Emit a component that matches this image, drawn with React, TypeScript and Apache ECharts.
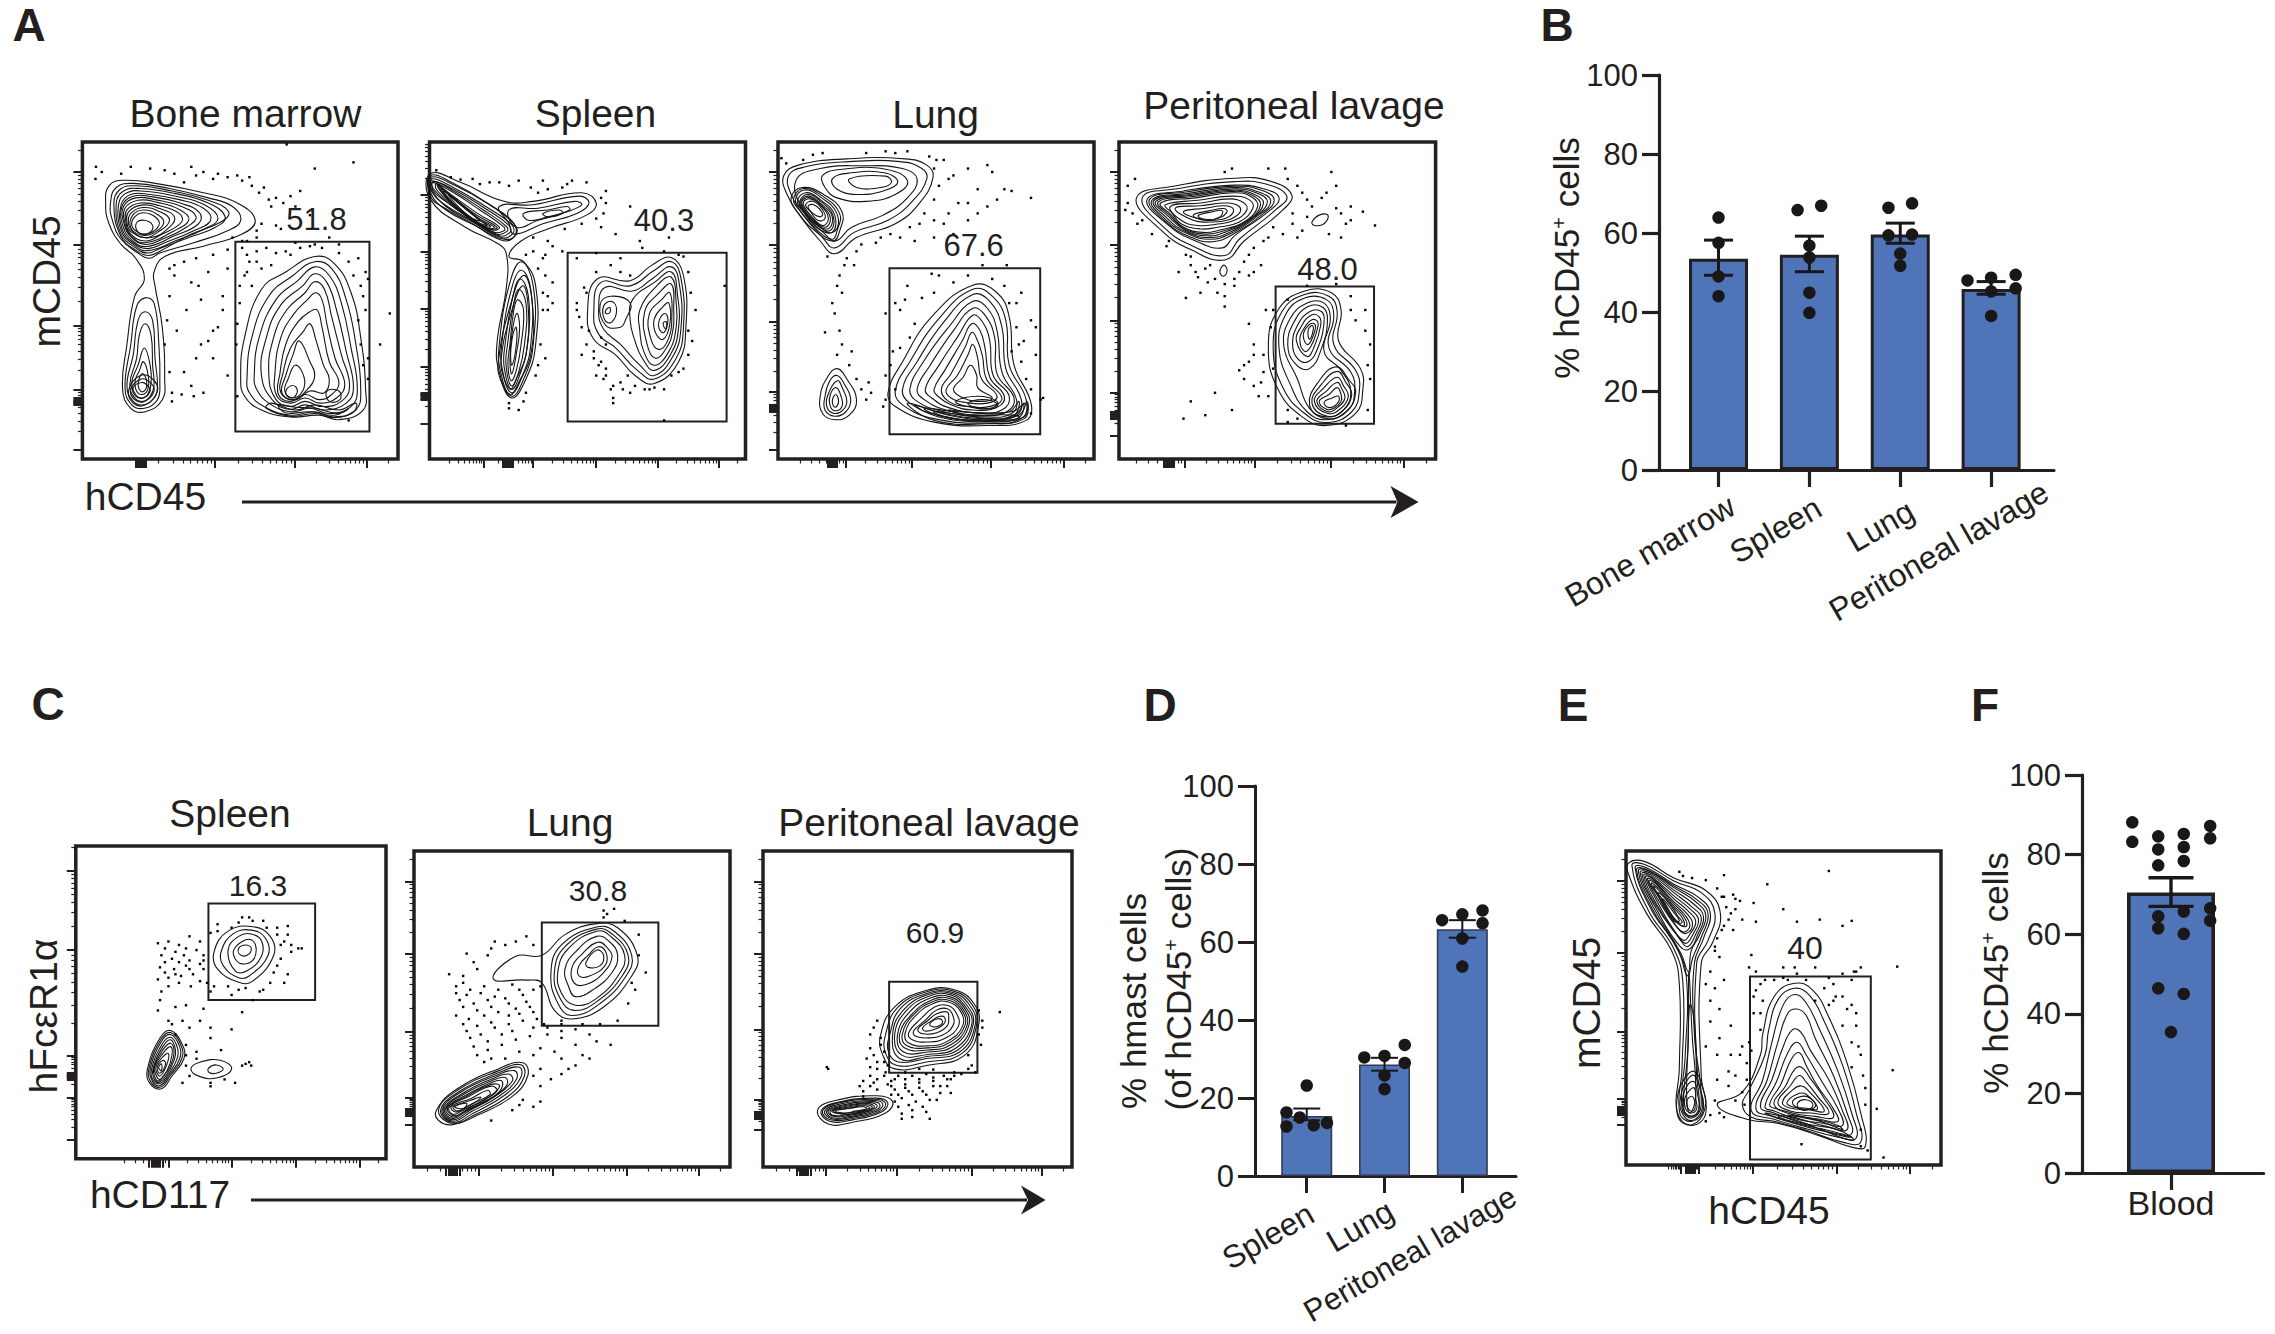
import React, { useEffect, useRef } from "react";
import * as echarts from "echarts";

const INK = "#231f20";
const BLUE = "#4f74b8";
const FONT = "'Liberation Sans', Arial, sans-serif";

/* ---------- bar panels: values ---------- */
const catB = ["Bone marrow", "Spleen", "Lung", "Peritoneal lavage"];
const meanB = [53.5, 54.5, 59.6, 45.8];
const errLowB = [49.3, 50.2, 57.4, 44.5];
const errHighB = [58.2, 59.2, 62.5, 47.7];
const dotsB = [
  [1, 63.9], [1, 57.5], [1, 49], [1, 44],
  [1.87, 65.8], [2.13, 66.9], [2, 56.8], [2, 53.8], [2, 44.9], [2, 39.8],
  [2.87, 66.4], [3.13, 67.5], [2.87, 59.4], [3.13, 59.6], [3, 54.8], [3, 51.7],
  [3.74, 48], [4, 48.7], [4.27, 49.4], [4.27, 46], [4, 45.2], [4, 39],
];
const catD = ["Spleen", "Lung", "Peritoneal lavage"];
const meanD = [15.4, 28.6, 63.3];
const errLowD = [14.3, 27, 61.1];
const errHighD = [17.3, 30.3, 65.6];
const dotsD = [
  [1, 23.2], [0.74, 16.3], [0.91, 15], [0.74, 12.7], [1.09, 13], [1.26, 13.6],
  [1.74, 30.4], [2, 30.8], [2.26, 33.6], [2.26, 29], [2, 25.8], [2, 22.3],
  [2.74, 65.6], [3, 67.1], [3.26, 68.1], [3.26, 64.8], [3, 60.9], [3, 53.7],
];
const meanF = [70.5];
const errLowF = [67];
const errHighF = [74.2];
const dotsF = [
  [0.56, 88.1], [0.56, 83.2], [0.855, 84.6], [0.855, 81.3], [0.855, 77.3],
  [1.145, 85.2], [1.145, 81.9], [1.145, 78.4], [1.445, 87.2], [1.445, 84.1],
  [1.445, 66.5], [1.445, 63.4], [1.145, 65.7], [1.145, 60.1], [0.855, 64.5],
  [0.855, 61.5], [0.855, 46.4], [1.145, 45], [1, 35.4],
];

/* ---------- flow panels: contour rings, events, gates ---------- */
const ringsA1 = [
  [218,590,225,540,255,524,330,535,420,560,490,590,527,640,500,680,420,715,340,745,318,790,320,830,335,950,340,1100,335,1160,300,1195,270,1185,253,1130,262,1000,278,860,298,810,280,750,250,710,225,650],
  [228,590,240,545,275,533,350,548,430,575,480,600,497,640,470,670,400,705,330,735,308,750,285,735,250,695,232,640],
  [240,590,255,555,290,548,360,562,430,590,465,630,445,660,390,690,330,722,305,735,280,720,250,680],
  [250,595,270,565,310,565,370,580,420,605,435,640,400,670,340,705,305,722,275,705,252,665],
  [255,600,280,575,320,580,375,600,405,630,385,660,335,695,300,710,272,690,256,650],
  [262,610,290,590,330,598,370,620,375,645,335,680,300,700,270,680,260,645],
  [270,620,295,603,330,615,350,640,325,675,298,690,272,670,265,645],
  [278,630,297,618,322,632,328,655,305,680,285,675,272,655],
  [283,645,298,640,314,652,312,672,295,680,282,668],
  [300,865,318,880,328,1000,330,1110,325,1160,298,1185,272,1175,258,1125,270,1000,282,890],
  [300,905,315,930,320,1040,325,1120,318,1155,297,1175,275,1165,262,1120,275,1030,285,930],
  [300,940,312,975,315,1060,318,1120,310,1150,295,1165,278,1155,268,1115,282,1040,288,970],
  [298,1010,310,1060,312,1110,305,1145,293,1155,280,1145,272,1110,285,1060],
  [296,1050,306,1090,305,1130,294,1145,282,1135,279,1105,288,1075],
  [295,1085,303,1115,295,1137,286,1125,287,1100],
  [497,1100,505,980,540,840,590,790,650,745,690,765,725,850,745,980,755,1130,750,1190,700,1218,660,1205,600,1210,540,1190,505,1150],
  [510,1100,520,980,555,860,605,800,650,760,685,780,715,870,735,1000,745,1130,735,1190,690,1210,650,1195,600,1205,545,1180,515,1140],
  [525,1090,535,980,570,870,615,815,650,775,680,800,705,880,725,1010,738,1130,725,1180,680,1200,640,1185,600,1195,555,1170,530,1130],
  [540,1090,550,980,580,885,625,830,650,795,675,820,695,900,715,1020,730,1125,715,1170,670,1190,630,1175,600,1188,565,1165],
  [555,1085,565,980,592,900,630,850,650,818,670,840,685,920,705,1030,722,1120,705,1165,665,1180,630,1165,600,1180,570,1160],
  [568,1080,580,980,605,915,635,870,652,850,665,870,675,940,692,1040,712,1115,695,1155,660,1170,630,1155,600,1170,572,1150],
  [578,1085,590,1000,615,935,640,905,655,900,665,950,680,1050,700,1110,685,1145,660,1160,630,1145,600,1165,575,1145],
  [585,1080,600,1010,625,965,640,940,652,985,668,1060,680,1100,670,1140,640,1135,610,1160,580,1140],
  [590,1090,605,1030,618,990,640,1050,650,1090,635,1130,605,1160,582,1140],
  [595,1100,610,1060,628,1095,625,1135,605,1155,588,1135],
  [600,1120,612,1125,612,1145,600,1155,590,1140],
  [675,1135,700,1135,702,1160,680,1165],
];
const ringsA1b = [
  [235,592,248,550,282,540,355,555,430,582,472,615,456,645,395,680,332,728,306,742,282,728,250,688],
  [245,592,262,560,300,556,365,571,425,597,450,635,422,665,365,698,305,728,277,712,251,672],
  [252,598,275,570,315,572,372,590,412,618,410,650,360,685,302,716,273,698,254,658],
  [258,605,285,582,325,588,372,610,390,638,360,670,300,705,271,686,258,648],
  [266,615,292,596,330,606,360,630,350,660,312,690,272,675,262,645],
  [274,625,296,610,326,624,338,648,315,678,290,682,270,662],
  [560,1170,610,1190,650,1175,700,1190,735,1170,730,1195,690,1212,650,1200,600,1208,550,1185],
  [575,1175,610,1182,650,1185,700,1200,720,1185,690,1205,640,1195,590,1198],
  [266,1130,290,1090,315,1100,325,1135,300,1175,275,1170],
  [270,1130,292,1100,310,1110,318,1135,298,1165,278,1160],
  [275,1125,293,1110,305,1120,310,1135,296,1155,280,1150],
];
const dotsA1 = [198,485,270,485,395,485,650,490,730,472,592,420,197,520,420,500,360,505,440,520,380,530,470,515,500,525,520,540,545,545,570,575,600,570,620,555,560,600,540,650,580,665,530,670,570,655,480,690,440,740,380,760,360,770,430,790,410,830,385,900,350,860,460,900,450,950,440,960,340,1000,380,1080,420,1140,400,1150,355,1140,460,860,510,740,530,760,550,720,590,730,620,720,680,690,640,715,700,735,730,800,745,830,755,900,740,930,785,1000,805,910,510,790,540,780,520,830,495,830,500,720,560,770,600,740,650,710,720,760,750,860,355,1165,395,1120,415,1000,470,780,430,990,360,800,
  210,500,250,505,310,490,340,495,405,510,450,505,490,510,515,515,535,560,555,580,585,590,610,600,640,625,530,690,510,700,470,725,405,750,350,780,395,820,415,870,345,930,365,960,405,1040,440,1040,470,1090,350,1080,375,1145,500,700,530,730,570,735,610,705,665,720,700,710,740,750,755,790,760,810,515,760,505,800,495,880,490,940,488,1000,490,1150,745,1000,760,1040,750,1060,720,1220,760,1100];
const gateA1 = [486, 702, 763, 1252];

const ringsA2 = [
  [888,505,950,530,1040,585,1100,585,1200,560,1230,590,1210,625,1130,665,1075,700,1050,745,1080,760,1105,830,1105,1000,1085,1100,1055,1155,1030,1080,1025,1000,1045,830,1045,740,1030,710,960,660,888,580],
  [1030,600,1100,595,1195,570,1215,590,1190,620,1120,650,1060,680,1050,650],
  [1050,610,1110,605,1185,585,1200,595,1170,615,1110,640,1065,660],
  [1080,620,1130,610,1170,600,1175,610,1130,630,1090,640],
  [1120,620,1155,610,1160,620,1130,630],
  [888,515,940,540,1010,595,1060,650,1065,680,1040,695,980,655,920,610,888,560],
  [888,525,935,550,1000,605,1050,655,1052,675,1030,685,975,645,920,600,890,550],
  [892,530,930,555,990,610,1040,660,1040,670,1020,675,970,635,925,590,895,550],
  [900,535,930,565,985,620,1030,660,1015,668,965,630,925,585,900,550],
  [905,540,930,572,980,628,1020,660,1005,662,960,625,925,580],
  [915,555,945,585,985,635,1005,655,985,645,950,610,925,575],
  [925,565,960,605,990,640,975,635,945,600],
  [1075,760,1100,830,1100,1000,1082,1095,1055,1150,1032,1075,1030,1000,1050,830],
  [1075,785,1095,840,1095,1000,1078,1090,1055,1140,1036,1070,1035,1000,1055,840],
  [1073,810,1090,860,1088,1000,1073,1085,1055,1130,1040,1065,1042,1000,1058,860],
  [1070,840,1085,880,1082,1000,1070,1080,1055,1120,1044,1060,1047,1000,1060,880],
  [1068,870,1080,900,1075,1000,1066,1070,1055,1105,1048,1060,1052,1000,1060,900],
  [1066,910,1072,950,1066,1020,1056,1085,1052,1050,1056,970],
  [1064,950,1066,990,1056,1060,1054,1010],
  [1212,910,1232,810,1300,815,1345,770,1385,748,1410,800,1415,950,1400,1050,1350,1113,1310,1090,1270,1030,1225,985],
  [1225,905,1240,820,1300,830,1350,785,1385,760,1405,810,1410,950,1395,1040,1350,1100,1315,1075,1270,1010,1235,970],
  [1235,900,1248,835,1305,845,1345,810,1385,775,1402,830,1405,950,1390,1030,1350,1090,1320,1060,1280,1000,1245,955],
  [1305,870,1350,820,1385,790,1398,860,1400,950,1385,1025,1350,1075,1325,1040,1310,990,1300,930],
  [1238,885,1260,860,1300,880,1290,930,1280,950,1250,945],
  [1245,890,1262,875,1272,900,1262,935,1248,930],
  [1250,900,1258,893,1258,908,1250,910],
  [1320,900,1355,830,1385,805,1395,880,1395,950,1380,1020,1350,1060,1328,1020,1320,960],
  [1330,905,1360,850,1385,825,1390,900,1388,960,1375,1010,1352,1040,1335,1000],
  [1340,910,1365,870,1382,850,1386,920,1380,980,1360,1015,1342,980],
  [1350,925,1368,890,1380,880,1382,940,1368,985,1352,965],
  [1360,930,1372,910,1378,930,1370,965,1360,955],
  [1368,938,1375,935,1373,955],
];
const ringsA2b = [
  [1028,1050,1050,900,1080,800,1098,880,1095,1030,1070,1110,1053,1145,1032,1100],
  [1034,1040,1052,920,1078,830,1090,900,1085,1030,1065,1100,1053,1130,1038,1090],
  [888,510,938,535,1005,590,1058,645,1062,685,1035,698,975,650,918,605,888,570],
  [890,520,935,545,1002,600,1055,652,1058,678,1034,690,972,640,918,595,890,555],
  [895,528,932,552,995,608,1045,658,1046,672,1024,680,968,632,922,588,893,552],
  [902,538,930,568,982,624,1025,660,1010,665,962,628,925,582],
  [910,548,938,578,982,632,1012,658,995,655,955,618,925,578],
];
const dotsA2 = [950,522,1010,530,1050,540,1095,545,1130,550,1180,525,1240,575,1250,590,1300,600,1160,545,990,535,1110,560,1240,660,1270,680,1320,700,1380,690,1085,740,1120,750,1110,780,1125,800,1130,860,1140,880,1120,900,1110,1060,1130,900,1070,1190,1050,1170,1080,1165,1190,880,1195,920,1205,835,1230,790,1260,770,1280,790,1300,800,1215,960,1225,1020,1240,1050,1250,1090,1265,1120,1285,1130,1300,1140,1265,1170,1370,1220,1425,850,1435,900,1420,960,1410,1070,1400,1080,1370,1130,1340,1130,1310,1120,1495,830,1400,740,1250,1000,1240,980,
  900,495,930,515,975,520,1030,530,1070,525,1120,525,1170,535,1210,530,1250,555,1245,620,1230,635,1200,650,1165,665,1130,700,1100,690,1100,730,1125,740,1140,715,1160,730,1190,750,1230,735,1280,750,1325,720,1370,730,1410,745,1420,790,1140,820,1120,850,1115,1000,1125,1040,1105,1090,1085,1140,1050,1185,1210,850,1190,900,1200,950,1210,1000,1225,1040,1235,1060,1250,1070,1280,1110,1295,1090,1330,1130,1350,1125,1385,1090,1420,1030,1428,990,1200,1030,1260,1130,1245,1100,1265,1155,1230,1090];
const gateA2 = [1171, 734, 1499, 1223];

const ringsA3 = [
  [90,510,120,480,220,462,340,462,385,480,398,515,370,590,320,650,240,690,195,737,165,700,125,630,95,560],
  [100,510,135,485,225,470,330,470,375,490,385,520,355,585,305,640,235,675,195,720,170,690,130,625,105,565],
  [115,525,165,490,250,482,335,490,365,520,345,575,295,625,230,660,197,700,175,680,130,610],
  [170,510,210,492,300,492,345,525,320,565,260,585,200,575,175,545],
  [190,520,225,503,300,503,325,530,295,555,240,565,200,550],
  [225,520,300,512,312,530,290,545,240,545],
  [110,580,130,548,170,570,205,620,200,670,190,695,160,670,125,615],
  [118,585,135,560,165,580,195,625,190,675,165,660,130,610],
  [125,590,140,570,165,590,190,630,180,665,150,640],
  [130,590,145,578,168,600,182,635,170,655,145,625],
  [135,595,150,585,170,610,175,635,160,640,145,615],
  [140,600,152,595,170,620,165,630,150,620],
  [200,1070,220,1100,240,1160,225,1205,195,1218,170,1200,165,1150,180,1095],
  [200,1090,215,1115,228,1160,218,1195,195,1208,175,1190,175,1150,185,1105],
  [200,1105,212,1130,220,1165,212,1190,195,1200,180,1185,180,1150],
  [198,1125,208,1150,210,1180,195,1192,185,1175,186,1145],
  [197,1145,203,1165,196,1182,190,1165],
  [305,1140,335,1050,395,920,480,828,530,850,555,920,565,1060,600,1170,590,1220,510,1235,400,1225,320,1180],
  [320,1135,350,1050,410,925,480,840,520,860,548,930,555,1060,590,1160,580,1215,510,1228,400,1215,335,1175],
  [335,1130,365,1050,420,935,480,855,515,875,540,950,548,1070,580,1160,570,1205,510,1220,410,1205,350,1170],
  [350,1130,378,1050,430,950,480,875,510,895,530,960,540,1080,570,1160,560,1200,510,1210,420,1195,365,1165],
  [365,1130,392,1060,440,960,480,895,505,915,525,980,530,1085,565,1155,550,1195,500,1205,425,1190,380,1160],
  [382,1130,408,1065,450,975,480,915,500,935,515,990,522,1090,555,1150,540,1190,490,1198,430,1183,395,1155],
  [400,1130,422,1075,458,990,478,940,495,960,505,1010,515,1095,545,1150,530,1182,480,1190,435,1175,408,1150],
  [415,1130,435,1085,465,1005,478,965,490,990,500,1035,508,1100,540,1155,520,1178,470,1180,430,1165],
  [425,1130,448,1090,470,1030,480,1000,490,1040,498,1100,530,1150,510,1170,465,1168,435,1155],
  [440,1130,460,1095,475,1060,488,1090,490,1125,520,1155,500,1165,460,1155],
  [445,1165,490,1150,530,1165,525,1185,470,1180],
  [470,1170,500,1160,530,1172,515,1185,480,1180],
  [380,1185,450,1195,560,1195,590,1170,585,1210,520,1222,420,1210],
  [400,1195,470,1205,570,1205,575,1215,500,1222,430,1212],
];
const ringsA3b = [
  [105,575,128,545,172,565,210,615,205,672,192,700,158,675,120,620],
  [114,582,132,552,168,575,200,622,195,672,162,665,128,612],
  [122,588,138,565,166,585,192,628,185,670,155,650,128,608],
  [127,590,142,574,166,595,186,632,175,660,148,632],
  [345,1170,420,1200,510,1215,575,1205,592,1165,586,1215,510,1230,400,1220],
  [360,1175,430,1205,520,1218,570,1200,585,1170,575,1212,510,1224,410,1210],
  [430,1190,500,1200,555,1195,575,1165,565,1205,510,1215],
];
const dotsA3 = [85,460,150,450,300,440,345,440,405,465,420,465,430,520,510,480,545,550,600,575,560,555,490,550,450,590,400,580,380,620,420,650,470,640,350,660,330,690,290,690,250,710,220,750,180,745,235,770,205,800,210,850,195,910,175,965,210,1000,230,1020,225,1060,250,1130,270,1140,295,1180,300,1090,315,1020,340,870,375,865,440,820,410,800,500,770,550,770,580,850,600,930,610,950,555,880,330,900,360,940,320,1130,620,1160,575,1000,590,1100,600,1130,300,910,395,795,
  95,475,130,465,170,445,260,445,320,445,390,455,400,490,410,540,440,510,470,490,520,500,530,580,510,600,470,590,490,620,430,620,400,640,370,650,440,680,400,690,360,700,310,680,280,705,240,730,215,770,200,830,190,880,205,960,200,1030,240,1100,265,1110,260,1160,300,1160,320,880,345,830,400,850,470,800,520,810,545,830,570,880,570,950,585,990,560,1020,580,1050,610,1030,600,1200,625,1155,330,1010,310,1060,350,980];
const gateA3 = [308, 779, 619, 1260];

const ringsA4 = [
  [818,575,900,540,1020,518,1090,525,1138,565,1120,610,1040,700,1000,755,930,725,870,670],
  [830,575,905,548,1020,528,1085,535,1128,570,1105,610,1030,695,1000,742,935,715,878,665],
  [840,580,915,555,1020,538,1078,548,1112,575,1090,615,1020,685,995,720,940,700,885,655],
  [850,582,925,562,1020,545,1070,558,1095,585,1070,625,1010,680,970,695,925,680,880,640],
  [858,585,930,568,1020,553,1062,565,1080,590,1055,635,1000,675,965,685,920,670,885,630],
  [868,590,940,575,1020,560,1055,572,1068,600,1040,645,990,668,955,675,915,660,890,625],
  [878,595,945,582,1015,570,1050,580,1058,605,1030,645,985,660,950,665,910,650,892,620],
  [888,600,950,590,1010,578,1040,590,1045,612,1020,640,980,652,945,655,910,640],
  [898,605,950,598,1005,590,1030,600,1030,620,1005,640,970,645,935,640],
  [915,615,960,605,1000,598,1018,608,1010,628,980,640,945,635],
  [935,625,970,612,998,606,1005,615,990,632,960,640],
  [945,627,975,615,995,612,990,630,965,638],
  [1180,645,1195,625,1213,625,1205,650,1185,655],
  [990,790,998,770,1005,785,998,802],
  [1090,1010,1110,900,1165,845,1220,850,1240,900,1235,990,1280,1070,1285,1130,1270,1200,1210,1235,1160,1210,1110,1130],
  [1100,1010,1118,905,1165,855,1215,860,1232,905,1225,1000,1270,1075,1278,1130,1262,1195,1210,1226,1165,1200,1120,1125],
  [1112,1010,1125,915,1165,865,1210,870,1225,915,1215,1010,1260,1080,1268,1135,1255,1190,1210,1218,1170,1195,1135,1115],
  [1122,1005,1135,925,1170,880,1205,880,1218,925,1205,1020,1240,1075,1260,1135,1245,1190,1210,1210,1175,1185,1150,1100],
  [1130,1000,1143,935,1172,890,1203,893,1212,930,1200,1010,1175,1070,1145,1055],
  [1140,1000,1150,945,1175,905,1200,905,1205,935,1192,1010,1172,1050,1150,1040],
  [1148,990,1157,950,1178,915,1195,920,1198,945,1185,1005,1170,1035],
  [1155,985,1165,950,1180,928,1192,935,1190,960,1178,1005,1165,1020],
  [1162,975,1172,945,1185,940,1186,960,1172,1000],
  [1172,960,1180,945,1183,955,1175,985],
  [1175,1175,1195,1105,1230,1065,1255,1100,1270,1140,1250,1195,1210,1215],
  [1180,1170,1200,1115,1232,1078,1250,1110,1262,1145,1245,1190,1212,1208],
  [1185,1165,1205,1125,1232,1095,1245,1120,1255,1150,1240,1185,1213,1200],
  [1190,1165,1210,1135,1232,1110,1242,1130,1248,1155,1235,1180,1213,1195],
  [1195,1165,1215,1145,1232,1125,1240,1145,1240,1165,1225,1185,1210,1188],
  [1205,1168,1222,1155,1235,1150,1233,1170,1215,1183],
];
const ringsA4b = [
  [845,580,920,558,1020,541,1074,552,1102,580,1080,620,1015,682,975,702,932,690,882,648],
  [854,583,928,565,1020,549,1066,561,1088,587,1062,630,1005,678,968,690,922,675,882,635],
  [863,587,935,571,1020,556,1058,568,1074,595,1048,640,995,672,960,680,918,665,888,628],
];
const dotsA4 = [815,520,800,590,810,620,830,640,1015,490,1125,490,1220,500,1150,540,1170,580,1200,575,1230,605,1260,600,1310,655,1285,615,1140,620,1160,670,1150,690,1250,650,1170,630,1215,680,1100,660,1080,700,1050,740,1030,790,1060,790,1000,825,960,780,940,790,985,850,950,850,1000,890,920,865,1020,830,880,715,930,745,970,770,1050,940,1085,900,1080,1030,1060,1000,1050,1050,1100,1070,1040,1100,1075,1110,1015,1190,980,1140,930,1165,960,1205,915,1215,1030,1075,1290,900,1270,930,1300,1000,1295,1190,1130,1225,1250,1235,
  800,540,795,610,820,650,850,680,885,700,920,740,1000,500,1090,490,1130,520,1160,560,1180,600,1140,650,1120,680,1090,690,1060,720,1040,760,1020,810,1000,860,980,810,965,820,945,805,930,770,905,790,1050,800,1075,770,1240,620,1260,640,1240,690,1210,560,1230,540,1095,950,1060,1030,1080,1080,1040,1060,1070,1150,1060,1120,1090,1150,1130,1190,1150,1215,1260,900,1290,960,1295,1060,1300,1100,1260,860,1230,825,1170,830,1130,870,1100,900];
const gateA4 = [1105, 832, 1308, 1230];

const ringsC1 = [
  [305,790,325,730,360,717,385,745,390,800,360,875,340,878,310,840],
  [315,790,332,738,358,727,378,750,382,800,355,860,340,865,318,830],
  [325,785,340,745,358,738,373,760,372,805,352,845,335,845],
  [333,785,345,760,358,755,365,780,360,815,345,825,335,810],
  [340,780,350,770,358,780,352,800,342,798],
  [210,1130,228,1040,243,1018,260,1060,262,1100,245,1150,230,1187,213,1170],
  [214,1130,230,1050,243,1030,256,1065,256,1100,242,1145,228,1178,217,1165],
  [218,1130,232,1065,243,1045,250,1075,248,1105,238,1145,227,1168,220,1160],
  [220,1125,232,1085,243,1065,245,1090,238,1135,228,1160,223,1150],
  [222,1125,232,1095,240,1085,238,1115,228,1150],
  [224,1125,232,1105,236,1115,228,1142],
  [226,1125,230,1115,230,1135],
  [272,1130,285,1110,315,1105,330,1130,310,1155,285,1152],
  [297,1128,308,1118,318,1130,308,1142,298,1140],
  [212,1130,229,1045,243,1024,258,1062,259,1100,243,1148,229,1182,215,1168],
  [216,1130,231,1058,243,1038,253,1070,252,1102,240,1145,228,1172,218,1162],
  [219,1128,232,1075,243,1055,248,1082,243,1120,233,1150,226,1165,221,1155],
];
const dotsC1 = [225,765,240,760,255,770,270,745,285,760,230,800,245,810,262,800,280,785,290,800,228,835,248,840,265,830,285,825,225,870,240,865,258,860,275,855,230,905,272,890,265,945,290,955,345,965,225,960,300,735,310,710,340,705,355,690,375,700,395,720,410,740,400,770,415,790,425,780,395,830,410,855,385,880,370,905,350,895,325,890,305,890,360,930,245,1000,270,1010,300,1010,330,1015,250,1030,265,1060,280,1080,315,1075,270,1150,300,1170,335,1170,350,1115,358,1120,
  235,780,250,790,265,780,235,820,255,820,270,815,290,815,235,850,250,855,270,840,290,840,240,890,255,880,285,875,295,880,228,930,250,950,240,990,260,990,285,990,300,1040,265,1090,265,1120,280,1100,345,1120,355,1110,320,1160,300,1180,260,1170,395,740,405,760,415,770,430,780,400,810,390,850,405,880,375,900,340,900,330,915,300,905,360,700,345,690,310,730,330,720,410,715,380,720];
const gateC1 = [297, 650, 449, 930];

const ringsC2 = [
  [772,800,735,803,703,868,750,872,772,880,790,960,815,985,860,950,900,860,908,800,880,720,850,708,805,740],
  [785,850,800,770,850,718,875,730,900,800,892,860,855,940,815,975,795,940],
  [795,845,810,780,850,730,870,745,890,800,882,855,850,925,820,945,800,910],
  [805,840,820,790,850,745,868,760,880,800,872,850,845,900,820,920,810,890],
  [815,835,830,795,852,762,866,780,872,805,860,850,835,885,818,880],
  [825,830,838,800,853,775,864,795,862,830,840,860,825,860],
  [835,820,850,785,860,800,855,830,838,835],
  [622,1250,650,1190,710,1130,745,1112,752,1150,730,1210,680,1265,645,1292,625,1280],
  [628,1250,655,1195,712,1140,740,1125,742,1155,720,1205,675,1258,645,1285],
  [632,1248,660,1200,700,1160,725,1145,730,1165,705,1210,670,1250,645,1278],
  [636,1245,665,1205,700,1170,715,1165,712,1195,690,1225,660,1255,645,1270],
  [640,1242,668,1210,700,1180,708,1195,685,1225,655,1255,645,1262],
  [643,1240,672,1215,695,1192,698,1205,672,1232,650,1255],
  [646,1240,670,1222,685,1212,675,1230,652,1252],
  [648,1240,665,1230,660,1245],
  [625,1250,652,1192,711,1135,742,1118,747,1152,725,1208,678,1262,645,1288],
  [630,1249,657,1197,706,1150,733,1135,736,1160,712,1208,672,1254,645,1282],
  [634,1247,662,1202,700,1165,720,1155,722,1178,698,1218,665,1252,645,1274],
  [638,1243,666,1208,700,1175,712,1180,698,1210,672,1240,648,1266],
  [790,848,805,775,850,724,872,738,895,800,887,858,852,932,818,960,798,925],
];
const dotsC2 = [640,855,665,795,680,840,700,780,720,770,750,745,660,880,670,900,690,890,710,900,730,885,655,930,675,940,695,930,720,925,745,915,760,900,650,975,668,985,690,975,710,965,735,955,755,950,665,1020,685,1030,705,1010,725,1000,745,990,765,985,675,1065,695,1075,715,1060,735,1045,755,1035,780,1030,800,1020,820,1015,690,1110,720,1100,760,1090,790,1080,820,1060,850,1050,770,1130,800,1145,820,1120,730,1250,760,1240,770,1225,700,1280,860,670,875,665,890,700,910,740,920,850,895,940,880,990,855,1000,800,990,775,1000,840,1100,870,1060,
  650,890,660,860,675,820,695,800,705,760,735,760,760,770,650,910,665,915,685,910,705,920,740,900,770,890,660,950,680,960,700,950,725,940,750,935,660,1000,680,1005,700,995,725,975,740,970,760,965,670,1040,695,1050,715,1030,730,1020,760,1010,780,1010,800,1040,840,1030,680,1090,700,1100,740,1080,770,1070,800,1100,810,1130,830,1090,745,1220,740,1235,770,1180,785,1160,760,1150,800,1000,830,1000,860,690,865,680,910,800,905,900,900,880];
const gateC2 = [772, 705, 938, 1005];

const ringsC3 = [
  [1255,1030,1275,950,1320,902,1360,900,1388,940,1395,1000,1375,1090,1320,1120,1275,1130,1258,1090],
  [1268,1030,1283,955,1322,910,1358,908,1382,945,1390,1000,1368,1080,1320,1100,1280,1110,1266,1080],
  [1275,1030,1292,960,1325,918,1355,915,1376,950,1385,1000,1362,1070,1322,1088,1285,1090],
  [1282,1030,1300,970,1328,930,1352,925,1372,955,1378,1005,1355,1060,1322,1075,1290,1070],
  [1290,1025,1305,975,1330,940,1350,935,1368,960,1372,1005,1350,1050,1322,1063,1295,1055],
  [1295,1025,1312,985,1332,950,1350,945,1362,965,1366,1005,1346,1042,1322,1052,1300,1045],
  [1302,1020,1318,990,1334,960,1350,955,1358,975,1358,1005,1342,1033,1322,1040,1305,1035],
  [1308,1015,1322,990,1335,970,1350,965,1352,985,1350,1005,1335,1025,1315,1028],
  [1315,1010,1328,990,1338,978,1346,980,1345,1000,1332,1015,1318,1020],
  [1325,1000,1335,985,1343,990,1340,1003,1330,1008],
  [1165,1250,1190,1222,1250,1208,1272,1225,1262,1258,1215,1285,1180,1290],
  [1170,1252,1192,1228,1248,1215,1265,1228,1256,1255,1215,1278,1182,1282],
  [1175,1252,1195,1233,1245,1222,1258,1232,1250,1252,1215,1270,1185,1275],
  [1180,1252,1200,1238,1240,1228,1250,1238,1240,1252,1210,1265,1188,1268],
  [1185,1252,1205,1242,1235,1234,1243,1243,1230,1252,1205,1262],
  [1190,1252,1210,1245,1230,1240,1235,1246,1210,1258],
  [1262,1030,1279,952,1321,906,1359,904,1385,942,1392,1000,1371,1085,1320,1110,1278,1120,1262,1085],
  [1272,1030,1288,958,1323,914,1356,911,1379,948,1387,1000,1365,1075,1321,1094,1282,1100],
  [1279,1030,1296,965,1326,924,1353,920,1374,952,1381,1002,1358,1065,1322,1081,1287,1080],
  [1286,1028,1302,972,1329,935,1351,930,1370,957,1375,1005,1352,1055,1322,1069,1292,1062],
  [1172,1252,1193,1230,1246,1218,1262,1230,1253,1254,1215,1274,1183,1278],
  [1178,1252,1198,1236,1242,1225,1254,1235,1245,1252,1212,1268,1186,1272],
  [1183,1252,1203,1240,1237,1231,1246,1241,1235,1252,1207,1263,1187,1265],
  [1187,1252,1208,1244,1232,1237,1239,1244,1220,1252,1200,1260],
];
const dotsC3 = [1250,990,1240,1030,1255,1060,1245,1090,1235,1100,1260,1110,1250,1130,1178,1125,1240,1150,1260,1150,1280,1150,1300,1150,1320,1145,1345,1150,1360,1140,1385,1120,1400,1010,1395,960,1425,965,1290,1175,1310,1170,1330,1165,1350,1160,1275,1190,1295,1195,1315,1195,1340,1180,1285,1215,1305,1225,1325,1220,1355,1200,1280,1240,1300,1250,1325,1275,1285,1275,1355,1160,1275,1160,1265,1175,1245,1170,1225,1180,1250,1190,1270,1205,1230,1195,1310,1130,1370,1145,
  1245,1010,1255,1040,1240,1070,1260,1080,1250,1110,1262,1140,1240,1125,1265,1120,1180,1130,1230,1165,1250,1160,1270,1165,1290,1160,1310,1160,1330,1155,1360,1150,1380,1130,1390,1140,1398,1060,1400,990,1290,1185,1310,1185,1330,1180,1350,1180,1280,1205,1300,1205,1320,1205,1340,1200,1275,1225,1295,1235,1315,1240,1335,1220,1300,1270,1320,1255,1285,1260,1240,1180,1270,1180,1290,1140,1230,1210,1395,1030,1330,1132,1380,1090];
const gateC3 = [1267, 877, 1393, 1141];

const ringsE = [
  [150,440,185,435,250,475,320,505,352,560,335,630,310,680,310,950,320,1040,290,1070,258,1045,262,930,262,730,245,650,190,560,152,470],
  [158,445,185,442,250,482,312,512,340,560,325,625,300,680,302,950,315,1030,290,1060,263,1040,268,930,270,730,250,645,195,555],
  [165,450,190,450,250,490,305,522,330,560,315,620,295,680,295,850,310,1020,290,1052,268,1030,275,900,278,720,255,640,200,550],
  [172,458,195,458,250,498,298,532,320,565,305,615,288,650,282,700,265,655,205,545],
  [180,465,200,468,250,510,290,545,310,570,298,610,280,640,262,620,210,540],
  [188,472,205,478,250,525,282,555,298,580,285,610,272,625,250,600,215,535],
  [195,482,212,490,248,535,275,565,285,590,272,605,255,590,222,530],
  [205,495,222,510,248,545,268,570,272,590,255,580,230,535],
  [225,525,248,555,262,578,250,575,235,550],
  [285,780,295,820,300,950,305,1030,290,1048,272,1030,280,900],
  [258,1000,275,955,295,940,312,975,318,1030,290,1068,262,1050],
  [265,1000,280,960,295,950,308,985,312,1030,290,1058,268,1040],
  [270,1000,282,970,295,965,302,995,305,1030,288,1048,272,1035],
  [274,1005,285,985,295,980,298,1005,300,1030,288,1040,276,1030],
  [278,1015,287,1000,294,1005,296,1030,286,1035],
  [345,1020,400,990,440,900,445,850,470,760,515,728,555,745,590,810,630,920,660,1040,670,1120,640,1122,570,1095,480,1065,410,1055],
  [400,1020,415,985,450,900,458,840,480,765,515,740,548,758,580,820,620,925,650,1040,660,1110,620,1110,550,1085,470,1060,420,1050],
  [420,1035,445,960,465,870,490,780,515,755,540,775,570,840,610,940,640,1040,650,1100,610,1098,540,1078,470,1055],
  [430,1030,455,960,478,870,500,800,520,790,540,805,560,860,600,950,630,1040,640,1090,600,1088,530,1070,465,1048],
  [440,1025,465,960,490,880,510,840,528,845,550,890,590,960,620,1035,630,1080,590,1075,525,1062,470,1040],
  [450,1025,475,965,500,895,520,870,540,900,575,965,610,1030,620,1070,580,1065,520,1055,470,1035],
  [460,1020,485,970,508,910,525,895,540,925,565,975,600,1030,610,1060,570,1055,515,1045,475,1030],
  [470,1020,495,975,515,935,530,930,548,955,580,1005,600,1050,560,1048,510,1040],
  [478,1015,505,975,525,950,540,965,565,1000,590,1040,550,1040,505,1035],
  [488,1015,510,985,530,975,548,990,580,1035,545,1032,505,1028],
  [498,1015,520,995,540,995,565,1030,535,1028,510,1025],
  [510,1015,530,1000,550,1005,560,1025,530,1030],
  [522,1015,540,1008,555,1020,545,1032,525,1030],
  [168,455,192,455,250,494,302,528,325,562,310,618,292,665,280,710,260,650,202,548],
  [176,462,198,463,250,504,294,538,315,568,302,612,285,645,264,640,208,542],
  [184,468,202,473,250,518,286,550,304,575,292,610,276,632,256,610,212,538],
  [192,477,208,484,248,530,278,560,291,585,278,608,260,598,218,532],
  [200,488,217,500,248,540,272,568,278,590,262,586,226,532],
  [215,510,235,530,258,565,268,582,250,578,228,545],
  [283,700,290,850,298,1000,285,1040,278,1000,282,850],
  [480,1050,560,1075,620,1100,645,1105,620,1085,560,1065,490,1045],
  [500,1045,570,1060,620,1080,610,1070,560,1055],
  [450,1040,520,1058,600,1090,640,1098,590,1082,520,1065],
];
const dotsE = [262,460,320,480,360,468,455,490,590,458,640,578,360,520,385,525,375,560,400,575,370,575,425,535,430,580,490,550,520,580,570,575,620,590,645,700,740,688,340,640,350,665,420,660,515,690,560,690,620,705,490,690,470,720,440,730,425,760,440,800,600,770,630,790,650,800,620,830,640,870,660,900,640,930,670,1020,695,1030,330,770,350,790,375,830,400,880,410,920,385,950,345,900,370,940,415,870,350,1040,330,1045,385,1010,660,1120,675,1130,530,1115,730,937,710,1147,520,705,580,740,605,760,405,1020,
  270,470,290,475,345,500,355,520,380,515,365,545,385,550,395,530,355,600,345,620,340,650,360,590,380,600,330,700,320,730,340,740,360,720,415,690,430,700,450,720,430,745,445,770,425,800,440,840,420,890,410,960,395,900,375,900,350,860,330,820,320,880,345,960,370,975,400,990,340,1010,360,1050,320,1060,600,730,620,760,640,780,650,830,655,880,665,950,670,980,660,1080,490,715,500,720,540,720,590,715,640,720,650,700,660,690,560,770,590,780];
const gateE = [417, 712, 682, 1152];

/* tick positions of the log channels, in the same reading units */
const panels = [
  { rings: [...ringsA1, ...ringsA1b], dots: dotsA1, gate: gateA1, ext: [170,822,413,1332], box: [82.4,398,142,459], xMajor: [443,608,757], xCluster: 290, yMajor: [500,712,945,1130,1305], yCluster: 1165 },
  { rings: [...ringsA2, ...ringsA2b], dots: dotsA2, gate: gateA2, ext: [886,1538,413,1332], box: [429.5,745.5,142,459], xMajor: [998,1100,1230,1357,1483], xCluster: 1047, yMajor: [567,730,895,1065,1230], yCluster: 1150 },
  { rings: [...ringsA3, ...ringsA3b], dots: dotsA3, gate: gateA3, ext: [78,730,413,1332], box: [778,1094,142,459], xMajor: [218,354,517,667], xCluster: 190, yMajor: [500,712,935,1137,1305], yCluster: 1185 },
  { rings: [...ringsA4, ...ringsA4b], dots: dotsA4, gate: gateA4, ext: [782,1435,413,1332], box: [1119,1435.6,142,459], xMajor: [918,1062,1219,1370], xCluster: 885, yMajor: [500,710,930,1140,1265], yCluster: 1205 },
  { rings: ringsC1, dots: dotsC1, gate: gateC1, ext: [108,550,483,1390], box: [75.8,386,846,1158.7], xMajor: [240,330,422,512], xCluster: 222, yMajor: [555,785,1090,1212,1335], yCluster: 1150 },
  { rings: ringsC2, dots: dotsC2, gate: gateC2, ext: [590,1040,497,1415], box: [414,730,851,1167], xMajor: [682,787,893,995], xCluster: 645, yMajor: [585,795,1022,1215,1292], yCluster: 1255 },
  { rings: ringsC3, dots: dotsC3, gate: gateC3, ext: [1087,1528,497,1415], box: [763,1072,851,1167], xMajor: [1177,1278,1385,1485], xCluster: 1145, yMajor: [585,795,1015,1220,1308], yCluster: 1265 },
  { rings: ringsE, dots: dotsE, gate: gateE, ext: [145,836,410,1165], box: [1626,1941,851,1165], xMajor: [265,305,422,607,768], xCluster: 285, yMajor: [482,655,845,1005,1068], yCluster: 1035 },
];

const LOG = [2, 3, 4, 5, 6, 7, 8, 9].map((k) => Math.log10(k));

function minorX(major: number[], lo: number, hi: number) {
  const out: number[] = [];
  const stops = [2 * major[0] - major[1], ...major, 2 * major[major.length - 1] - major[major.length - 2]];
  for (let i = 0; i + 1 < stops.length; i++) LOG.forEach((l) => out.push(stops[i] + (stops[i + 1] - stops[i]) * l));
  return out.filter((v) => v > lo && v < hi);
}
function minorY(major: number[], lo: number, hi: number) {
  const out: number[] = [];
  const stops = [2 * major[0] - major[1], ...major];
  for (let i = 0; i + 1 < stops.length; i++) LOG.forEach((l) => out.push(stops[i + 1] - (stops[i + 1] - stops[i]) * l));
  return out.filter((v) => v > lo && v < hi);
}
const cluster = (c: number) => [c - 10, c - 6, c - 3, c, c + 3, c + 6, c + 10];

function buildOption() {
  const grid: any[] = [];
  const xAxis: any[] = [];
  const yAxis: any[] = [];
  const series: any[] = [];

  const hiddenAxis = (extra: any) => ({
    type: "value",
    axisLine: { show: false },
    axisLabel: { show: false },
    splitLine: { show: false },
    ...extra,
  });

  panels.forEach((p) => {
    const g = grid.length;
    const [x0, x1, y0, y1] = p.ext;
    const [l, r, t, b] = p.box;
    grid.push({ left: l, top: t, width: r - l, height: b - t, show: true, borderColor: INK, borderWidth: 3.5, backgroundColor: "transparent" });
    const xi = xAxis.length;
    const yi = yAxis.length;
    xAxis.push(hiddenAxis({ gridIndex: g, min: x0, max: x1, position: "bottom", axisTick: { show: true, length: 9, lineStyle: { color: INK, width: 2 }, customValues: [...p.xMajor, ...cluster(p.xCluster)] } }));
    xAxis.push(hiddenAxis({ gridIndex: g, min: x0, max: x1, position: "bottom", axisTick: { show: true, length: 4.5, lineStyle: { color: INK, width: 1.2 }, customValues: minorX(p.xMajor, x0, x1) } }));
    yAxis.push(hiddenAxis({ gridIndex: g, min: y0, max: y1, inverse: true, position: "left", axisTick: { show: true, length: 9, lineStyle: { color: INK, width: 2 }, customValues: [...p.yMajor, ...cluster(p.yCluster)] } }));
    yAxis.push(hiddenAxis({ gridIndex: g, min: y0, max: y1, inverse: true, position: "left", axisTick: { show: true, length: 4.5, lineStyle: { color: INK, width: 1.2 }, customValues: minorY(p.yMajor, y0, y1) } }));

    const rings = p.rings;
    series.push({
      type: "custom",
      coordinateSystem: "cartesian2d",
      xAxisIndex: xi,
      yAxisIndex: yi,
      data: rings.map((q) => [q[0], q[1]]),
      silent: true,
      renderItem: (params: any, api: any) => {
        const q = rings[params.dataIndex];
        const pts: number[][] = [];
        for (let i = 0; i + 1 < q.length; i += 2) pts.push(api.coord([q[i], q[i + 1]]));
        return { type: "polygon", shape: { points: pts, smooth: 0.45 }, style: { fill: "none", stroke: "#151515", lineWidth: 1.1 } };
      },
    });
    const d: number[][] = [];
    for (let i = 0; i + 1 < p.dots.length; i += 2) d.push([p.dots[i], p.dots[i + 1]]);
    series.push({
      type: "scatter",
      xAxisIndex: xi,
      yAxisIndex: yi,
      data: d,
      symbol: "rect",
      symbolSize: 2.4,
      itemStyle: { color: "#000", opacity: 1 },
      silent: true,
    });
    const gate = p.gate;
    series.push({
      type: "custom",
      coordinateSystem: "cartesian2d",
      xAxisIndex: xi,
      yAxisIndex: yi,
      data: [[gate[0], gate[1], gate[2], gate[3]]],
      silent: true,
      renderItem: (_: any, api: any) => {
        const a = api.coord([api.value(0), api.value(1)]);
        const c = api.coord([api.value(2), api.value(3)]);
        return { type: "rect", shape: { x: a[0], y: a[1], width: c[0] - a[0], height: c[1] - a[1] }, style: { fill: "none", stroke: INK, lineWidth: 2 } };
      },
    });
  });

  const barPanel = (cfg: any) => {
    const g = grid.length;
    grid.push({ left: cfg.left, top: cfg.top, width: cfg.right - cfg.left, height: cfg.bottom - cfg.top });
    const xi = xAxis.length;
    const yi = yAxis.length;
    xAxis.push({
      type: "value",
      gridIndex: g,
      min: cfg.min,
      max: cfg.max,
      splitLine: { show: false },
      axisLine: { show: true, onZero: false, lineStyle: { color: INK, width: cfg.axisW } },
      axisTick: { show: true, length: 17, lineStyle: { color: INK, width: cfg.axisW }, customValues: cfg.cats },
      axisLabel: { show: false },
    });
    yAxis.push({
      type: "value",
      gridIndex: g,
      min: 0,
      max: 100,
      interval: 20,
      splitLine: { show: false },
      axisLine: { show: true, onZero: false, lineStyle: { color: INK, width: cfg.axisW } },
      axisTick: { show: true, length: 17, lineStyle: { color: INK, width: cfg.axisW } },
      axisLabel: { show: true, color: INK, fontSize: 31, fontFamily: FONT, margin: 21 },
    });
    series.push({
      type: "bar",
      xAxisIndex: xi,
      yAxisIndex: yi,
      data: cfg.means.map((m: number, i: number) => [cfg.cats[i], m]),
      barWidth: cfg.barW,
      itemStyle: { color: BLUE, borderColor: cfg.borderC, borderWidth: cfg.borderW },
      silent: true,
    });
    series.push({
      type: "scatter",
      xAxisIndex: xi,
      yAxisIndex: yi,
      data: cfg.dots,
      symbolSize: 12.5,
      itemStyle: { color: "#1a1718", opacity: 1 },
      silent: true,
      z: 4,
    });
    series.push({
      type: "custom",
      coordinateSystem: "cartesian2d",
      xAxisIndex: xi,
      yAxisIndex: yi,
      z: 5,
      silent: true,
      data: cfg.means.map((_: number, i: number) => [cfg.cats[i], cfg.lows[i], cfg.highs[i]]),
      renderItem: (_: any, api: any) => {
        const lo = api.coord([api.value(0), api.value(1)]);
        const hi = api.coord([api.value(0), api.value(2)]);
        const h = cfg.cap / 2;
        const st = { stroke: "#1a1718", lineWidth: cfg.errW };
        return {
          type: "group",
          children: [
            { type: "line", shape: { x1: lo[0], y1: lo[1], x2: hi[0], y2: hi[1] }, style: st },
            { type: "line", shape: { x1: lo[0] - h, y1: lo[1], x2: lo[0] + h, y2: lo[1] }, style: st },
            { type: "line", shape: { x1: hi[0] - h, y1: hi[1], x2: hi[0] + h, y2: hi[1] }, style: st },
          ],
        };
      },
    });
  };

  barPanel({ left: 1659, right: 2054, top: 75, bottom: 470, min: 0.345, max: 4.692, cats: [1, 2, 3, 4], means: meanB, lows: errLowB, highs: errHighB, dots: dotsB, barW: 59, borderC: INK, borderW: 3, axisW: 3.2, cap: 29, errW: 3 });
  barPanel({ left: 1255, right: 1516, top: 786, bottom: 1176, min: 0.335, max: 3.69, cats: [1, 2, 3], means: meanD, lows: errLowD, highs: errHighD, dots: dotsD, barW: 51, borderC: "#2f3a55", borderW: 1.6, axisW: 3, cap: 27, errW: 2 });
  barPanel({ left: 2082, right: 2263.6, top: 775, bottom: 1173, min: -0.011, max: 2.052, cats: [1], means: meanF, lows: errLowF, highs: errHighF, dots: dotsF, barW: 88, borderC: INK, borderW: 3.6, axisW: 3.2, cap: 45, errW: 3.4 });

  const txt = (text: string, x: number, y: number, fontSize = 39, extra: any = {}, rotation = 0) => ({
    type: "text",
    x,
    y,
    rotation,
    z: 20,
    style: { text, fontSize, fontFamily: FONT, fill: INK, align: "center", verticalAlign: "middle", ...extra },
  });
  const R90 = Math.PI / 2;
  const R30 = Math.PI / 6;
  const supText = (a: string, b: string, x: number, y: number, fs: number) => ({
    type: "text",
    x,
    y,
    rotation: R90,
    z: 20,
    style: {
      text: `{a|${a}}{s|+}{a|${b}}`,
      fontFamily: FONT,
      fontSize: fs,
      fill: INK,
      align: "center",
      verticalAlign: "middle",
      rich: {
        a: { fontSize: fs, fontFamily: FONT, fill: INK, color: INK },
        s: { fontSize: fs * 0.58, fontFamily: FONT, fill: INK, color: INK, verticalAlign: "top" },
      },
    },
  });
  const arrow = (x0: number, x1: number, xh: number, y: number, hh: number) => [
    { type: "line", z: 20, shape: { x1: x0, y1: y, x2: xh + 6, y2: y }, style: { stroke: INK, lineWidth: 3 } },
    { type: "polygon", z: 20, shape: { points: [[xh, y - hh], [x1, y], [xh, y + hh], [xh + 7, y]] }, style: { fill: INK } },
  ];

  const elements: any[] = [
    txt("A", 29, 25, 46, { fontWeight: "bold" }),
    txt("B", 1557, 25, 46, { fontWeight: "bold" }),
    txt("C", 48, 704, 46, { fontWeight: "bold" }),
    txt("D", 1160, 705, 46, { fontWeight: "bold" }),
    txt("E", 1573, 705, 46, { fontWeight: "bold" }),
    txt("F", 1985, 705, 46, { fontWeight: "bold" }),
    txt("Bone marrow", 245.5, 113),
    txt("Spleen", 595.5, 113),
    txt("Lung", 935.6, 114),
    txt("Peritoneal lavage", 1294, 105),
    txt("51.8", 316.5, 219, 31),
    txt("40.3", 664, 220, 31),
    txt("67.6", 973.6, 245, 31),
    txt("48.0", 1327.5, 269, 31),
    txt("mCD45", 46, 281.5, 39, {}, R90),
    txt("hCD45", 145.4, 496),
    ...arrow(242, 1418.6, 1390.5, 502, 16),
    txt("Spleen", 230, 813.6),
    txt("Lung", 570, 822),
    txt("Peritoneal lavage", 929, 822),
    txt("16.3", 258, 885, 30),
    txt("30.8", 598, 890, 30),
    txt("60.9", 935, 932, 30),
    txt("hFcεR1α", 43.5, 1016, 39, {}, R90),
    txt("hCD117", 160, 1194),
    ...arrow(251, 1045.6, 1021, 1200, 14.5),
    txt("mCD45", 1586.4, 1003, 39, {}, R90),
    txt("hCD45", 1769, 1210),
    txt("40", 1805, 947.5, 32),
    supText("% hCD45", " cells", 1566, 258, 35),
    supText("% hCD45", " cells", 1995, 973, 35),
    txt("% hmast cells", 1133, 1001, 35, {}, R90),
    supText("(of hCD45", " cells)", 1178, 979, 35),
    txt(catB[0], 1650, 551, 32, {}, R30),
    txt(catB[1], 1775.5, 530, 32, {}, R30),
    txt(catB[2], 1880.6, 526, 32, {}, R30),
    txt(catB[3], 1938.7, 551, 32, {}, R30),
    txt(catD[0], 1268, 1236, 32, {}, R30),
    txt(catD[1], 1360, 1226, 32, {}, R30),
    txt(catD[2], 1410, 1254, 31, {}, R30),
    txt("Blood", 2171, 1203, 34),
  ];

  return { animation: false, backgroundColor: "#fff", grid, xAxis, yAxis, series, graphic: { elements } };
}

export default function App() {
  const ref = useRef<HTMLDivElement>(null);
  useEffect(() => {
    const chart = echarts.init(ref.current!, undefined, { renderer: "svg" });
    chart.setOption(buildOption() as any);
    return () => chart.dispose();
  }, []);
  return <div ref={ref} style={{ position: "absolute", left: 0, top: 0, width: 2275, height: 1334, background: "#fff" }} />;
}
